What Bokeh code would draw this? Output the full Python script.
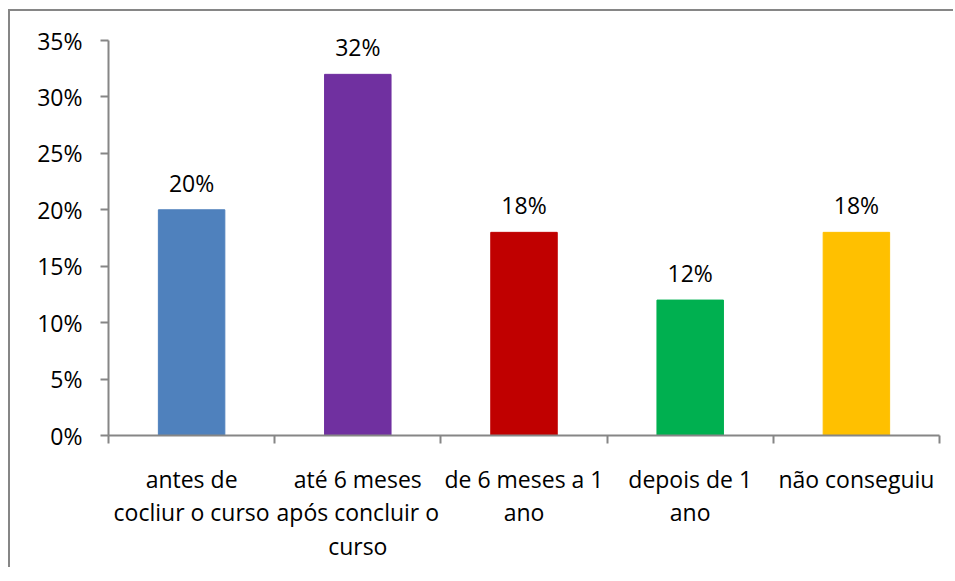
from bokeh.plotting import figure
from bokeh.models import (ColumnDataSource, Range1d, FixedTicker, NumeralTickFormatter,
                          LabelSet)
from bokeh.core.properties import value
from bokeh.embed import file_html
from bokeh.resources import INLINE

categories = ["antes de\ncocliur o curso",
              "até 6 meses\napós concluir o\ncurso",
              "de 6 meses a 1\nano",
              "depois de 1\nano",
              "não conseguiu"]
values = [0.20, 0.32, 0.18, 0.12, 0.18]
bar_colors = ["#4F81BD", "#7030A0", "#C00000", "#00B050", "#FFC000"]
y_ticks = [0.0, 0.05, 0.10, 0.15, 0.20, 0.25, 0.30, 0.35]

FONT = "Open Sans"
FS = "23px"
GRAY = "#868686"

y_max = y_ticks[-1]
# frame extends 22px above the axis top so the top data label is not clipped
axis_px = 395
extra_px = 22
y_top = y_max * (axis_px + extra_px) / axis_px

xs = [i + 0.5 for i in range(len(categories))]
labels = [f"{round(v * 100)}%" for v in values]
src = ColumnDataSource(dict(x=xs, top=values, color=bar_colors, label=labels))

p = figure(width=945, height=558, output_backend="svg", toolbar_location=None,
           x_range=Range1d(0, len(categories)), y_range=Range1d(0, y_top),
           min_border_left=98, min_border_right=16, min_border_top=29 - extra_px,
           min_border_bottom=134)
p.styles = {"border-left": f"2px solid {GRAY}", "border-top": f"2px solid {GRAY}",
            "margin-top": "9px", "margin-left": "8px"}
p.outline_line_color = None
p.xgrid.visible = False
p.ygrid.visible = False
p.background_fill_color = "white"
p.border_fill_color = "white"

p.vbar(x="x", top="top", bottom=0, width=0.4, color="color", source=src)

p.add_layout(LabelSet(x="x", y="top", text="label", source=src, text_align="center",
                      text_baseline="alphabetic", y_offset=18, text_font=value(FONT),
                      text_font_size=value(FS), text_color=value("black")))

xa = p.xaxis[0]
xa.ticker = FixedTicker(ticks=xs, minor_ticks=list(range(len(categories) + 1)))
xa.major_label_overrides = {x: c for x, c in zip(xs, categories)}
xa.major_tick_out = 0
xa.major_tick_in = 0
xa.minor_tick_out = 8
xa.minor_tick_in = 0
xa.minor_tick_line_color = GRAY
xa.minor_tick_line_width = 2
xa.axis_line_color = GRAY
xa.axis_line_width = 2
xa.major_label_text_font = FONT
xa.major_label_text_font_size = FS
xa.major_label_text_color = "black"
xa.major_label_text_line_height = 1.05
xa.major_label_standoff = 19

ya = p.yaxis[0]
ya.ticker = FixedTicker(ticks=y_ticks)
ya.bounds = (0, y_max)
ya.formatter = NumeralTickFormatter(format="0%")
ya.major_tick_out = 8
ya.major_tick_in = 0
ya.minor_tick_out = 0
ya.minor_tick_in = 0
ya.major_tick_line_color = GRAY
ya.major_tick_line_width = 2
ya.axis_line_color = GRAY
ya.axis_line_width = 2
ya.major_label_text_font = FONT
ya.major_label_text_font_size = FS
ya.major_label_text_color = "black"
ya.major_label_standoff = 18

open("out.html", "w").write(file_html(p, INLINE))
